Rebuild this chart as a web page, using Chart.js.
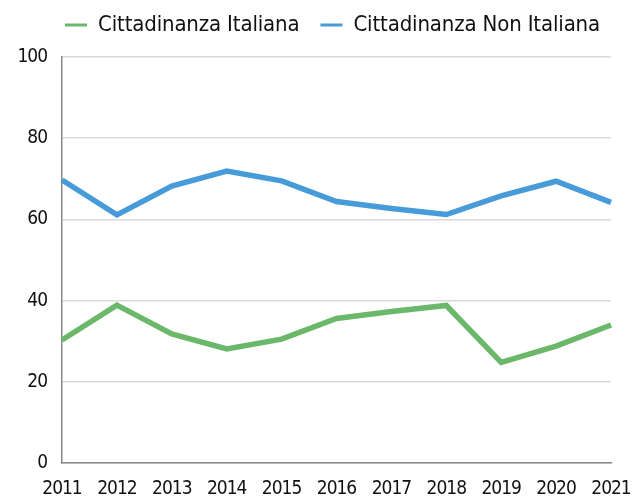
<!DOCTYPE html>
<html>
<head>
<meta charset="utf-8">
<script src="https://cdn.jsdelivr.net/npm/chart.js@4"></script>
<style>
  body { margin: 0; background: #fff; }
  #wrap { width: 632px; height: 503px; }
</style>
</head>
<body>
<div id="wrap"><canvas id="lineChart" width="632" height="503"></canvas></div>
<script>
const years = ["2011", "2012", "2013", "2014", "2015", "2016", "2017", "2018", "2019", "2020", "2021"];
const italiana = [30.3, 38.9, 31.8, 28.1, 30.5, 35.6, 37.3, 38.8, 24.8, 28.8, 34.0];
const nonItaliana = [69.7, 61.1, 68.2, 71.9, 69.5, 64.4, 62.7, 61.2, 65.8, 69.4, 64.2];

const fontFamily = "'DejaVu Sans Condensed', 'Liberation Sans', sans-serif";

// the original font is a tight condensed face, so squeeze the letters a bit
function withSpacing(obj, name, spacing, shiftX) {
    if (obj[name]._wrapped) return;
    const orig = obj[name];
    obj[name] = function () {
        const c = this.ctx;
        c.save();
        c.letterSpacing = spacing;
        if (shiftX) c.translate(shiftX, 0);
        const out = orig.apply(this, arguments);
        c.restore();
        return out;
    };
    obj[name]._wrapped = true;
}

const tightText = {
    id: "tightText",
    beforeInit(chart) {
        const legend = chart.legend;
        withSpacing(legend, "fit", "-0.15px");
        withSpacing(legend, "draw", "-0.15px", 21);
        const fit = legend.fit;
        legend.fit = function () {
            fit.apply(this, arguments);
            this.height = 64;
        };
    },
    afterLayout(chart) {
        withSpacing(chart.scales.x, "drawLabels", "-1px");
        withSpacing(chart.scales.y, "drawLabels", "-1px");
    }
};

const ctx = document.getElementById("lineChart").getContext("2d");

new Chart(ctx, {
    type: "line",
    data: {
        labels: years,
        datasets: [{
            label: "Cittadinanza Italiana",
            data: italiana,
            borderColor: "#6bb86b",
            backgroundColor: "#6bb86b",
            borderWidth: 5.5,
            pointRadius: 0,
            tension: 0,
            fill: false
        }, {
            label: "Cittadinanza Non Italiana",
            data: nonItaliana,
            borderColor: "#479bd8",
            backgroundColor: "#479bd8",
            borderWidth: 5.5,
            pointRadius: 0,
            tension: 0,
            fill: false
        }]
    },
    plugins: [tightText],
    options: {
        responsive: false,
        animation: false,
        layout: { padding: { left: 12, right: 21, top: -7, bottom: 2 } },
        plugins: {
            legend: {
                position: "top",
                align: "center",
                labels: {
                    boxWidth: 22,
                    boxHeight: 3,
                    padding: 21,
                    color: "#111",
                    font: { family: fontFamily, size: 22 },
                    generateLabels(chart) {
                        return Chart.defaults.plugins.legend.labels.generateLabels(chart)
                            .map(item => ({ ...item, lineWidth: 0 }));
                    }
                }
            },
            tooltip: { enabled: false }
        },
        scales: {
            x: {
                offset: false,
                grid: { display: false },
                border: { color: "#888", width: 1.5 },
                ticks: {
                    color: "#111",
                    maxRotation: 0,
                    autoSkip: false,
                    padding: 7,
                    font: { family: fontFamily, size: 19 }
                },
                afterFit(scale) {
                    scale.height = 38;
                    scale.paddingLeft = 0;
                    scale.paddingRight = 0;
                }
            },
            y: {
                min: 0,
                max: 100,
                grid: { color: "#d9d9d9", lineWidth: 1.5, drawTicks: false },
                border: { color: "#888", width: 1.5 },
                ticks: {
                    stepSize: 20,
                    color: "#111",
                    padding: 15,
                    font: { family: fontFamily, size: 19 }
                },
                afterFit(scale) { scale.width = 50; }
            }
        }
    }
});
</script>
</body>
</html>
